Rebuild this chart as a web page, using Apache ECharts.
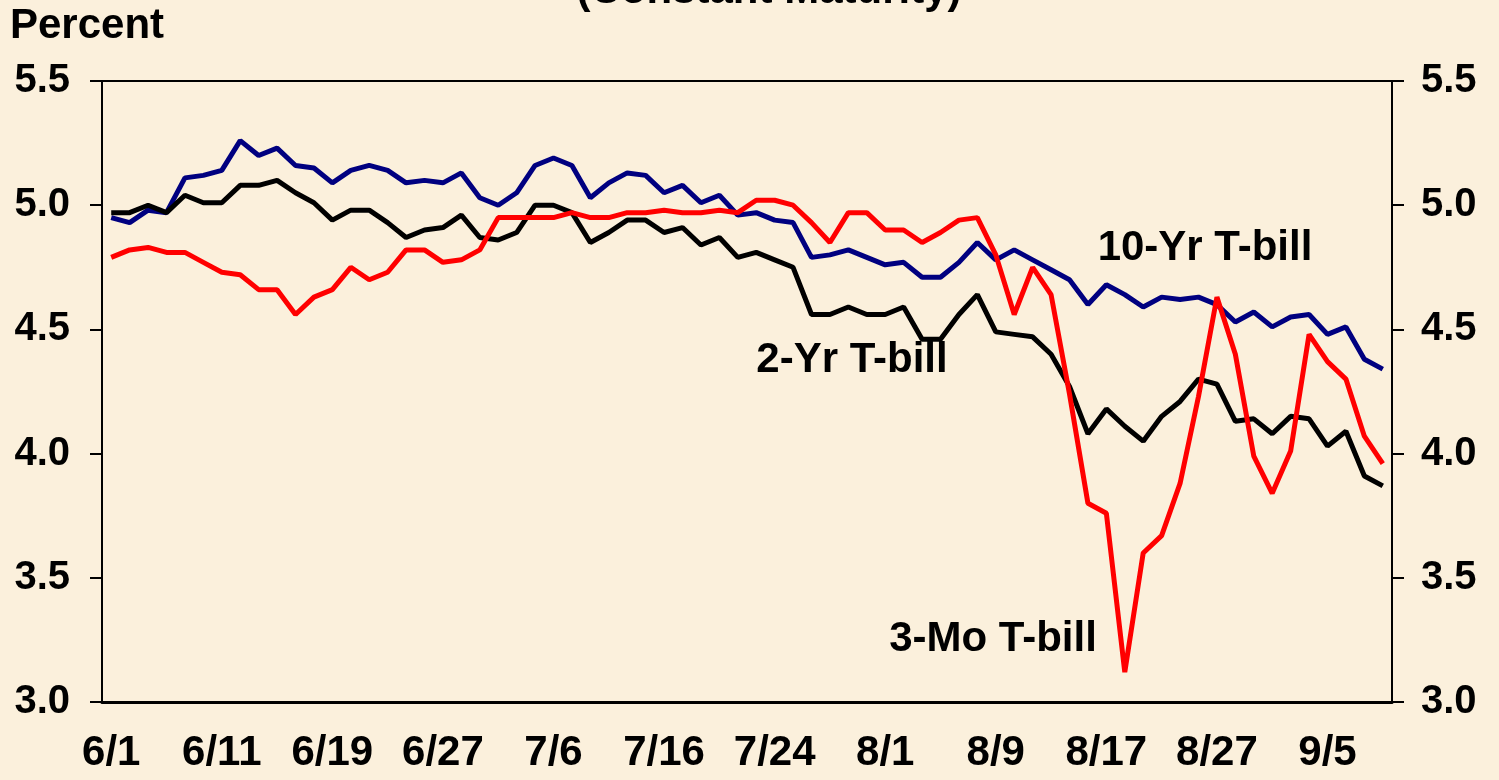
<!DOCTYPE html>
<html>
<head>
<meta charset="utf-8">
<script src="https://cdn.jsdelivr.net/npm/echarts@6/dist/echarts.min.js"></script>
<style>
  html, body { margin: 0; padding: 0; background: #fbf0dc; }
  #chart { width: 1499px; height: 780px; }
</style>
</head>
<body>
<div id="chart"></div>
<script>
// Treasury yields (constant maturity), daily business days 6/1 - 9/10.

const dates = [
  "6/1", "6/4", "6/5", "6/6", "6/7", "6/8", "6/11", "6/12", "6/13", "6/14",
  "6/15", "6/18", "6/19", "6/20", "6/21", "6/22", "6/25", "6/26", "6/27", "6/28",
  "6/29", "7/2", "7/3", "7/5", "7/6", "7/9", "7/10", "7/11", "7/12", "7/13",
  "7/16", "7/17", "7/18", "7/19", "7/20", "7/23", "7/24", "7/25", "7/26", "7/27",
  "7/30", "7/31", "8/1", "8/2", "8/3", "8/6", "8/7", "8/8", "8/9", "8/10",
  "8/13", "8/14", "8/15", "8/16", "8/17", "8/20", "8/21", "8/22", "8/23", "8/24",
  "8/27", "8/28", "8/29", "8/30", "8/31", "9/4", "9/5", "9/6", "9/7", "9/10",
];

const tenYr = [
  4.95, 4.93, 4.98, 4.97, 5.11, 5.12, 5.14, 5.26, 5.20, 5.23,
  5.16, 5.15, 5.09, 5.14, 5.16, 5.14, 5.09, 5.10, 5.09, 5.13,
  5.03, 5.00, 5.05, 5.16, 5.19, 5.16, 5.03, 5.09, 5.13, 5.12,
  5.05, 5.08, 5.01, 5.04, 4.96, 4.97, 4.94, 4.93, 4.79, 4.80,
  4.82, 4.79, 4.76, 4.77, 4.71, 4.71, 4.77, 4.85, 4.78, 4.82,
  4.78, 4.74, 4.70, 4.60, 4.68, 4.64, 4.59, 4.63, 4.62, 4.63,
  4.60, 4.53, 4.57, 4.51, 4.55, 4.56, 4.48, 4.51, 4.38, 4.34,
];

const twoYr = [
  4.97, 4.97, 5.00, 4.97, 5.04, 5.01, 5.01, 5.08, 5.08, 5.10,
  5.05, 5.01, 4.94, 4.98, 4.98, 4.93, 4.87, 4.90, 4.91, 4.96,
  4.87, 4.86, 4.89, 5.00, 5.00, 4.97, 4.85, 4.89, 4.94, 4.94,
  4.89, 4.91, 4.84, 4.87, 4.79, 4.81, 4.78, 4.75, 4.56, 4.56,
  4.59, 4.56, 4.56, 4.59, 4.46, 4.46, 4.56, 4.64, 4.49, 4.48,
  4.47, 4.40, 4.27, 4.08, 4.18, 4.11, 4.05, 4.15, 4.21, 4.30,
  4.28, 4.13, 4.14, 4.08, 4.15, 4.14, 4.03, 4.09, 3.91, 3.87,
];

const threeMo = [
  4.79, 4.82, 4.83, 4.81, 4.81, 4.77, 4.73, 4.72, 4.66, 4.66,
  4.56, 4.63, 4.66, 4.75, 4.70, 4.73, 4.82, 4.82, 4.77, 4.78,
  4.82, 4.95, 4.95, 4.95, 4.95, 4.97, 4.95, 4.95, 4.97, 4.97,
  4.98, 4.97, 4.97, 4.98, 4.97, 5.02, 5.02, 5.00, 4.93, 4.85,
  4.97, 4.97, 4.90, 4.90, 4.85, 4.89, 4.94, 4.95, 4.80, 4.56,
  4.75, 4.64, 4.24, 3.80, 3.76, 3.12, 3.60, 3.67, 3.88, 4.23,
  4.63, 4.40, 3.99, 3.84, 4.01, 4.48, 4.37, 4.30, 4.07, 3.96,
];

const FONT = "'Liberation Sans', Arial, sans-serif";

function valueAxis(position, margin) {
  return {
    type: "value",
    position,
    min: 3,
    max: 5.5,
    interval: 0.5,
    axisLine: { show: true, lineStyle: { color: "#000", width: 2 } },
    axisTick: { show: true, length: 12, lineStyle: { color: "#000", width: 2 } },
    splitLine: { show: false },
    axisLabel: {
      margin,
      color: "#000",
      fontFamily: FONT,
      fontWeight: "bold",
      fontSize: 40,
      formatter: (v) => v.toFixed(1),
    },
  };
}

function lineSeries(name, data, color) {
  return {
    name,
    type: "line",
    data,
    symbol: "none",
    lineStyle: { color, width: 5 },
    emphasis: { disabled: true },
  };
}

function annotation(text, x, y, align) {
  return {
    type: "text",
    x,
    y,
    style: {
      text,
      fill: "#000",
      font: "bold 42px " + FONT,
      align: align || "center",
      verticalAlign: "middle",
    },
  };
}

const chart = echarts.init(document.getElementById("chart"));

chart.setOption({
  backgroundColor: "#fbf0dc",
  animation: false,
  grid: {
    left: 102,
    right: 107,
    top: 81,
    bottom: 78,
    show: true,
    borderColor: "#000",
    borderWidth: 2,
    backgroundColor: "transparent",
  },
  xAxis: {
    type: "category",
    data: dates,
    boundaryGap: true,
    axisLine: { lineStyle: { color: "#000", width: 3 } },
    axisTick: { interval: 3, length: 14, lineStyle: { color: "#000", width: 2 } },
    axisLabel: {
      interval: 5,
      margin: 30,
      color: "#000",
      fontFamily: FONT,
      fontWeight: "bold",
      fontSize: 42,
    },
  },
  yAxis: [valueAxis("left", 32), valueAxis("right", 29)],
  series: [
    lineSeries("10-Yr T-bill", tenYr, "#000080"),
    lineSeries("2-Yr T-bill", twoYr, "#000000"),
    lineSeries("3-Mo T-bill", threeMo, "#ff0000"),
  ],
  graphic: [
    annotation("(Constant Maturity)", 769, -9),
    annotation("Percent", 10, 26, "left"),
    annotation("10-Yr T-bill", 1205, 248),
    annotation("2-Yr T-bill", 852, 360),
    annotation("3-Mo T-bill", 993, 639),
  ],
});
</script>
</body>
</html>
